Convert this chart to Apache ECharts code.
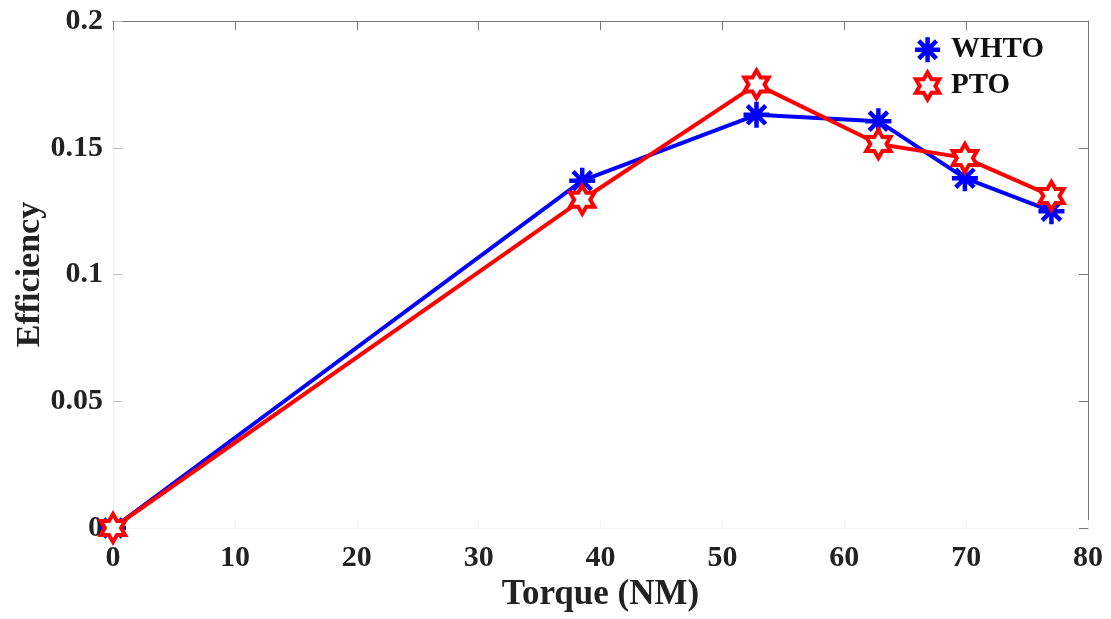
<!DOCTYPE html>
<html><head><meta charset="utf-8">
<script src="https://cdn.jsdelivr.net/npm/echarts@6/dist/echarts.min.js"></script>
<style>html,body{margin:0;padding:0;background:#fff}#c{width:1111px;height:619px}</style>
</head><body><div id="c"></div>
<script>
const torqueWHTO = [0, 38.5, 52.8, 62.8, 69.9, 77.0];
const effWHTO = [0, 0.137, 0.163, 0.1605, 0.138, 0.125];
const torquePTO = [0, 38.5, 52.8, 62.8, 69.9, 77.0];
const effPTO = [0, 0.1295, 0.175, 0.1515, 0.146, 0.131];
const xTicks = [0, 10, 20, 30, 40, 50, 60, 70, 80];
const yTicks = [0, 0.05, 0.1, 0.15, 0.2];
const seriesNames = ['WHTO', 'PTO'];

const asterisk = 'path://M0,-10L0,10M-10,0L10,0M-7.07,-7.07L7.07,7.07M-7.07,7.07L7.07,-7.07';
const hexagram = 'path://M0,-10L2.887,-5L8.66,-5L5.77,0L8.66,5L2.887,5L0,10L-2.887,5L-8.66,5L-5.77,0L-8.66,-5L-2.887,-5Z';
const font = 'Liberation Serif';
const chart = echarts.init(document.getElementById('c'));
const pair = (xs, ys) => xs.map((x, i) => [x, ys[i]]);
const frameAxis = {
  axisLine: {show: true, onZero: false, lineStyle: {color: '#777', width: 1}},
  axisTick: {show: true, inside: true, length: 9, lineStyle: {color: '#777'}},
  axisLabel: {show: false}, splitLine: {show: false}
};
chart.setOption({
  animation: false,
  grid: {left: 113, right: 23, top: 21, bottom: 91, outerBoundsMode: 'none', containLabel: false},
  legend: {
    right: 62, top: 30, orient: 'vertical', itemGap: 6, itemWidth: 25, itemHeight: 27,
    textStyle: {fontFamily: font, fontWeight: 'bold', fontSize: 29, lineHeight: 29, color: '#111', padding: [0, 0, 0, 6]},
    data: [
      {name: seriesNames[0], icon: asterisk, itemStyle: {color: '#0000ff', borderColor: '#0000ff', borderWidth: 4.5}},
      {name: seriesNames[1], icon: hexagram, itemStyle: {color: '#fff', borderColor: '#ff0000', borderWidth: 4}}
    ]
  },
  xAxis: [Object.assign({
    type: 'value', min: xTicks[0], max: xTicks[xTicks.length - 1], interval: 10, position: 'bottom',
    name: 'Torque (NM)', nameLocation: 'middle', nameGap: 49, nameMoveOverlap: false,
    nameTextStyle: {fontFamily: font, fontWeight: 'bold', fontSize: 35, color: '#222'}
  }, {
    axisLine: {show: true, onZero: false, lineStyle: {color: '#f4f4f4', width: 1}},
    axisTick: {show: true, inside: true, length: 8, lineStyle: {color: '#f4f4f4'}},
    axisLabel: {fontFamily: font, fontWeight: 'bold', fontSize: 30, color: '#222', margin: 15},
    splitLine: {show: false}
  }), Object.assign({
    type: 'value', min: xTicks[0], max: xTicks[xTicks.length - 1], interval: 10, position: 'top'
  }, frameAxis)],
  yAxis: [{
    type: 'value', min: yTicks[0], max: yTicks[yTicks.length - 1], interval: 0.05, position: 'left',
    name: 'Efficiency', nameLocation: 'middle', nameGap: 66, nameRotate: 90, nameMoveOverlap: false,
    nameTextStyle: {fontFamily: font, fontWeight: 'bold', fontSize: 34, color: '#222'},
    axisLine: {show: true, onZero: false, lineStyle: {color: '#f0f0f0', width: 1}},
    axisTick: {show: true, inside: true, length: 9, lineStyle: {color: '#bbb'}},
    axisLabel: {fontFamily: font, fontWeight: 'bold', fontSize: 30, color: '#222', margin: 10,
      formatter: v => String(+v.toFixed(2))},
    splitLine: {show: false}
  }, Object.assign({
    type: 'value', min: yTicks[0], max: yTicks[yTicks.length - 1], interval: 0.05, position: 'right'
  }, frameAxis)],
  series: [{
    name: seriesNames[0], type: 'line', data: pair(torqueWHTO, effWHTO),
    symbol: asterisk, symbolSize: 26, symbolKeepAspect: true,
    lineStyle: {color: '#0000ff', width: 4},
    itemStyle: {color: '#0000ff', borderColor: '#0000ff', borderWidth: 4.5},
    z: 2
  }, {
    name: seriesNames[1], type: 'line', data: pair(torquePTO, effPTO),
    symbol: hexagram, symbolSize: 28, symbolKeepAspect: true,
    lineStyle: {color: '#ff0000', width: 4},
    itemStyle: {color: '#ffffff', borderColor: '#ff0000', borderWidth: 4},
    z: 3
  }]
});
</script></body></html>
